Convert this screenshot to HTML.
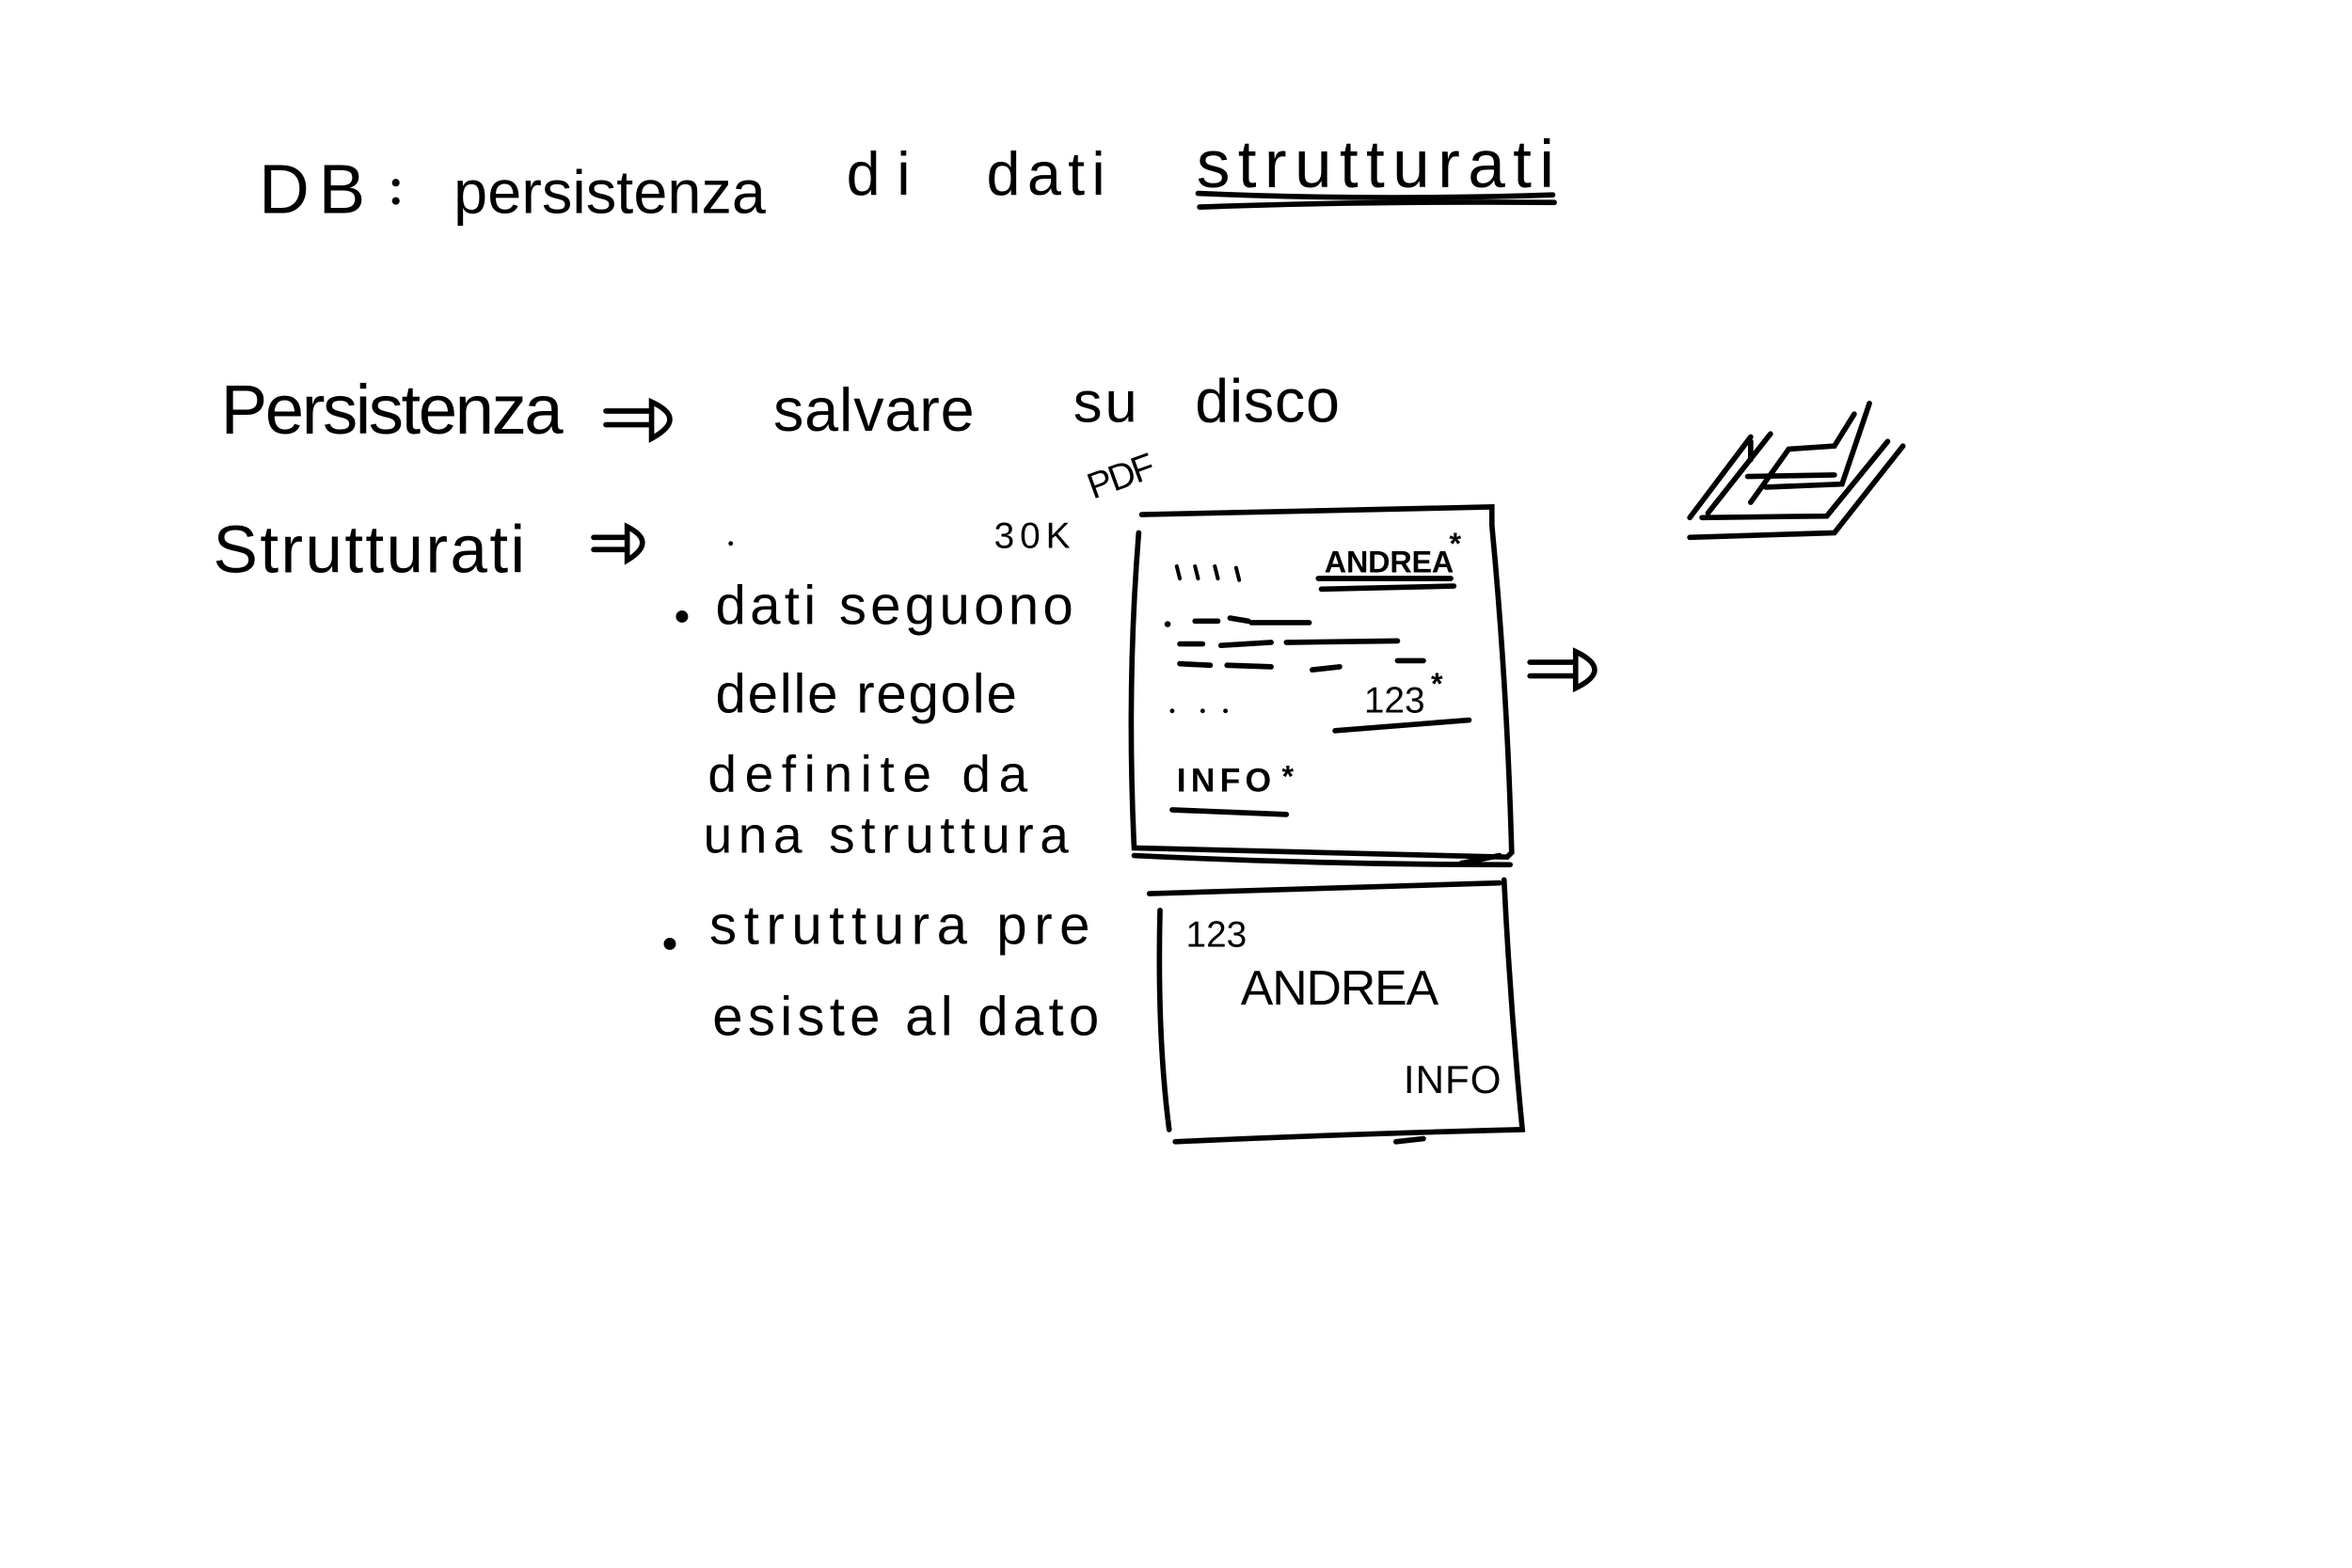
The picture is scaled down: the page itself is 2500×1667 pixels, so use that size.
<!DOCTYPE html>
<html><head><meta charset="utf-8"><style>
html,body{margin:0;padding:0;background:#fff;}
svg{display:block;}
text{font-family:"Liberation Sans",sans-serif;fill:#000;}
</style></head><body>
<svg width="2500" height="1667" viewBox="0 0 1545 1030" preserveAspectRatio="none" xmlns="http://www.w3.org/2000/svg">
<rect width="1545" height="1030" fill="#fff"/>
<g stroke="#000" stroke-width="3.5" fill="none" stroke-linecap="round">
<path d="M787 127 Q900 132 1020 128"/>
<path d="M788 136 Q900 132 1021 133"/>
<path d="M398 270 L428 270 M398 279 L428 279 M428 264 Q452 275 428 288 Z"/>
<path d="M390 353 L412 353 M390 361 L412 361 M412 346 Q432 356 412 368 Z"/>
<path d="M1005 435 L1035 435 M1005 444 L1035 444 M1035 428 Q1060 440 1035 452 Z"/>
<path d="M750 338 L980 333 L980 345 M980 345 Q990 450 993 560 L990 563 Q870 560 745 557 Q740 450 748 350"/>
<path d="M745 562 Q870 568 992 568 M960 567 L985 562"/>
<path d="M866 380 L953 380 M868 387 L955 385"/>
<path d="M877 480 L965 473"/>
<path d="M770 532 L845 535"/>
<path d="M785 408 L800 408 M808 406 L820 408 M822 409 L860 409 M775 423 L790 423 M802 424 L835 422 M845 422 L918 421 M775 436 L795 437 M806 437 L835 438 M862 440 L880 438 M918 434 L935 434"/>
<path d="M773 372 L775 380 M785 372 L787 380 M798 372 L800 380 M812 373 L814 381" stroke-width="2.5"/>
<path d="M755 587 Q870 583 985 580 M988 578 Q992 660 1000 742 Q880 745 772 750 M762 598 Q760 680 768 742 M917 750 L935 748"/>
<path d="M1110 340 L1150 287 M1110 353 L1205 350 L1250 293 M1122 337 L1163 285 M1150 330 L1175 295 L1205 293 L1218 272 M1160 320 L1210 318 L1228 265 M1148 313 L1205 312 M1150 302 L1150 290"/>
<path d="M1118 340 L1200 339 L1240 290"/>
</g>
<g fill="#000">
<circle cx="448" cy="405" r="4"/>
<circle cx="440" cy="620" r="4"/>
<circle cx="260" cy="132" r="2.5"/><circle cx="260" cy="120" r="2.5"/>
</g>
<text x="170" y="140" font-size="46" textLength="70">DB</text>
<text x="298" y="140" font-size="40" textLength="205">persistenza</text>
<text x="556" y="128" font-size="40" textLength="42">di</text>
<text x="648" y="128" font-size="40" textLength="78">dati</text>
<text x="786" y="123" font-size="44" textLength="235">strutturati</text>
<text x="145" y="285" font-size="46" textLength="225">Persistenza</text>
<text x="508" y="283" font-size="40" textLength="132">salvare</text>
<text x="705" y="277" font-size="38" textLength="42">su</text>
<text x="785" y="277" font-size="40" textLength="95">disco</text>
<text x="140" y="376" font-size="44" textLength="205">Strutturati</text>
<text x="470" y="410" font-size="36" textLength="235">dati seguono</text>
<text x="470" y="468" font-size="36" textLength="198">delle regole</text>
<text x="465" y="520" font-size="34" textLength="210">definite da</text>
<text x="462" y="560" font-size="34" textLength="240">una struttura</text>
<text x="466" y="620" font-size="36" textLength="250">struttura pre</text>
<text x="468" y="680" font-size="36" textLength="254">esiste al dato</text>
<text x="653" y="360" font-size="24" textLength="50">30K</text>
<text x="718" y="328" font-size="24" textLength="45" transform="rotate(-20 718 328)">PDF</text>
<text x="870" y="376" font-size="20" font-weight="bold" textLength="85">ANDREA</text>
<text x="896" y="468" font-size="24" textLength="40">123</text>
<text x="773" y="520" font-size="22" font-weight="bold" textLength="62">INFO</text>
<text x="779" y="622" font-size="24" textLength="40">123</text>
<text x="815" y="660" font-size="32" textLength="130">ANDREA</text>
<text x="922" y="718" font-size="26" textLength="64">INFO</text>
<g fill="#1565c0" font-size="20" font-weight="bold">
<text x="952" y="364">*</text><text x="940" y="456">*</text><text x="842" y="517">*</text>
</g>
<circle cx="480" cy="357" r="1.5" fill="#000"/>
<circle cx="770" cy="467" r="1.5" fill="#000"/><circle cx="790" cy="467" r="1.5" fill="#000"/><circle cx="805" cy="467" r="1.5" fill="#000"/>
<circle cx="767" cy="410" r="2" fill="#000"/>
</svg>
</body></html>
